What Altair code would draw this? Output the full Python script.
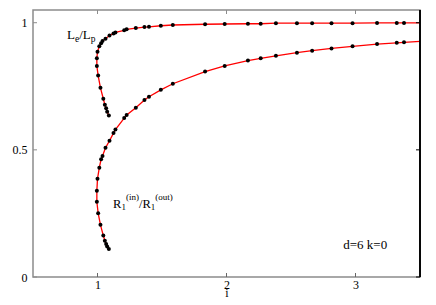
import altair as alt
import pandas as pd

# shared abscissa (path order, starting at lower tip of each branch)
i_vals = [1.088, 1.075, 1.067, 1.057, 1.045, 1.023, 1.005, 0.995, 0.995, 1.000,
          1.014, 1.028, 1.039, 1.062, 1.093, 1.124, 1.139, 1.207, 1.226, 1.297,
          1.364, 1.399, 1.491, 1.584, 1.834, 1.986, 2.166, 2.265, 2.383, 2.546,
          2.664, 2.814, 2.977, 3.167, 3.320, 3.376, 3.600]
le_lp = [0.635, 0.650, 0.664, 0.677, 0.701, 0.744, 0.792, 0.830, 0.860, 0.886,
         0.907, 0.919, 0.928, 0.937, 0.950, 0.958, 0.962, 0.970, 0.974, 0.979,
         0.983, 0.984, 0.988, 0.991, 0.994, 0.995, 0.996, 0.996, 0.998, 0.998,
         0.998, 0.998, 0.998, 0.999, 0.999, 0.999, 0.9995]
r_ratio = [0.110, 0.120, 0.130, 0.143, 0.163, 0.205, 0.251, 0.296, 0.339, 0.386,
           0.430, 0.463, 0.476, 0.508, 0.536, 0.566, 0.580, 0.625, 0.637, 0.666,
           0.696, 0.709, 0.736, 0.760, 0.808, 0.830, 0.851, 0.860, 0.870, 0.882,
           0.890, 0.899, 0.907, 0.916, 0.921, 0.923, 0.930]

x_ticks = [1, 2, 3]
y_ticks = [0, 0.5, 1]

# annotation pieces: text, x, y, font size
ann_text = ["L", "e", "/L", "p",
            "R", "1", "(in)", "/R", "1", "(out)",
            "d=6 k=0"]
ann_x = [0.7636, 0.8248, 0.8581, 0.9481,
         1.1202, 1.1860, 1.2210, 1.3220, 1.4130, 1.4480,
         2.905]
ann_y = [0.936, 0.926, 0.936, 0.926,
         0.2714, 0.2616, 0.3009, 0.2714, 0.2616, 0.3009,
         0.111]
ann_size = [13, 9.5, 13, 9.5,
            12.5, 9, 9, 12.5, 9, 9,
            13]

rows = []
for k, (xv, a, b) in enumerate(zip(i_vals, le_lp, r_ratio)):
    rows.append({"i": xv, "v": a, "series": "LeLp", "idx": k})
    rows.append({"i": xv, "v": b, "series": "R1", "idx": k})
df = pd.DataFrame(rows)

ann = pd.DataFrame({"t": ann_text, "i": ann_x, "v": ann_y, "s": ann_size})
xt = pd.DataFrame({"i": x_ticks})
yt = pd.DataFrame({"v": y_ticks})

FONT = "Liberation Serif"
W, H = 387, 267
GRAY = "#8c8c8c"

xscale = alt.Scale(domain=[0.5, 3.5], nice=False, zero=False)
yscale = alt.Scale(domain=[0, 1.05], nice=False, zero=False)

xaxis = alt.Axis(values=x_ticks, domain=False, ticks=False, grid=False,
                 labelFont=FONT, labelFontSize=12, labelColor="black",
                 labelPadding=2, title="i", titleFont=FONT, titleFontSize=12,
                 titleFontWeight="normal", titleColor="black",
                 titleBaseline="alphabetic", titleY=19)
yaxis = alt.Axis(values=y_ticks, domain=False, ticks=False, grid=False,
                 labelFont=FONT, labelFontSize=12, labelColor="black",
                 labelPadding=6, format="~g", title=None)

X = alt.X("i:Q", scale=xscale, axis=xaxis)
Y = alt.Y("v:Q", scale=yscale, axis=yaxis)

line = alt.Chart(df).mark_line(color="#ff0000", strokeWidth=1.3, clip=True).encode(
    x=X, y=Y, detail="series:N", order="idx:Q",
)
pts = alt.Chart(df).mark_circle(color="black", size=16, opacity=1, clip=True).encode(
    x=X, y=Y,
)
texts = alt.Chart(ann).mark_text(align="left", baseline="alphabetic", font=FONT,
                                 color="black").encode(
    x=X, y=Y,
    text="t:N",
    size=alt.Size("s:Q", scale=None),
)
bt = alt.Chart(xt).mark_rule(color="#666666", strokeWidth=1).encode(
    x=X, y=alt.value(H), y2=alt.value(H - 4))
tt = alt.Chart(xt).mark_rule(color=GRAY, strokeWidth=1).encode(
    x=X, y=alt.value(0), y2=alt.value(4))
lt = alt.Chart(yt).mark_rule(color=GRAY, strokeWidth=1).encode(
    y=Y, x=alt.value(0), x2=alt.value(4))
rt = alt.Chart(yt).mark_rule(color="black", strokeWidth=1).encode(
    y=Y, x=alt.value(W - 4), x2=alt.value(W))
redge = alt.Chart(yt).mark_rule(color="black", strokeWidth=1.3).encode(
    x=alt.value(W), y=alt.value(0), y2=alt.value(H))

chart = alt.layer(line, pts, texts, bt, tt, lt, rt, redge).properties(
    width=W, height=H,
    autosize=alt.AutoSizeParams(type="none"),
    padding={"left": 25, "top": 2, "right": 4, "bottom": 20},
).configure_view(stroke=GRAY, strokeWidth=1.5).configure_axis(grid=False)

chart.save("out.html", embed_options={"renderer": "svg", "actions": False})
